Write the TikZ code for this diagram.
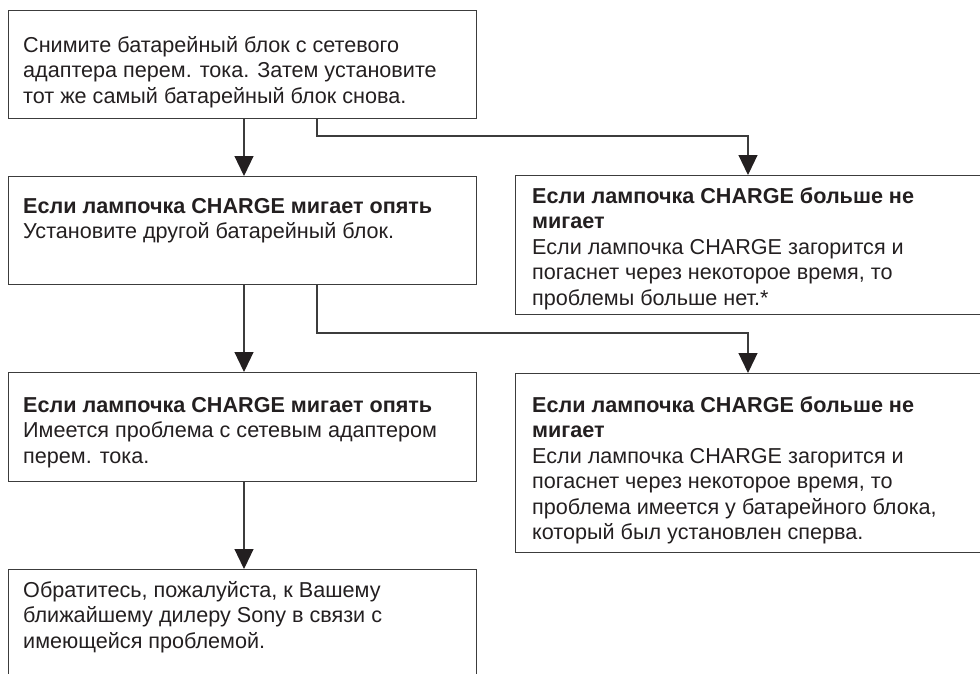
\documentclass[tikz,border=0pt]{standalone}
\usepackage{fontspec}
\setmainfont{Liberation Sans}
\usetikzlibrary{arrows.meta}
\definecolor{ink}{HTML}{231F20}
\definecolor{rule}{HTML}{3C3C3C}
\tikzset{
  boxnode/.style={draw=rule, line width=1.2pt, rectangle, inner sep=0pt, anchor=north west},
  txt/.style={anchor=base west, inner sep=0pt, text=ink, font=\fontsize{21.6}{25.5}\selectfont},
  arr/.style={draw=rule, line width=1.2pt, -{Triangle[width=19pt,length=20pt,color=ink]}},
}
\newcommand{\tb}[1]{\parbox[t]{470pt}{\raggedright #1}}
\begin{document}
\begin{tikzpicture}[x=1pt,y=-1pt]
\useasboundingbox (0,0) rectangle (980,673);
\clip (0,0) rectangle (980,673);
% boxes
\node[boxnode, minimum width=468pt, minimum height=108pt] (b1) at (8,10) {};
\node[boxnode, minimum width=468pt, minimum height=108pt] (b2) at (8,176) {};
\node[boxnode, minimum width=480pt, minimum height=139pt] (b3) at (515,175) {};
\node[boxnode, minimum width=468pt, minimum height=109pt] (b4) at (8,372) {};
\node[boxnode, minimum width=480pt, minimum height=179pt] (b5) at (515,373) {};
\node[boxnode, minimum width=468pt, minimum height=140pt] (b6) at (8,569) {};
% texts
\node[txt] (t1) at (23,52) {\tb{Снимите батарейный блок с сетевого\\адаптера перем. тока. Затем установите\\тот же самый батарейный блок снова.}};
\node[txt] (t2) at (23,213) {\tb{\textbf{Если лампочка CHARGE мигает опять}\\Установите другой батарейный блок.}};
\node[txt] (t3) at (532,203) {\tb{\textbf{Если лампочка CHARGE больше не}\\\textbf{мигает}\\Если лампочка CHARGE загорится и\\погаснет через некоторое время, то\\проблемы больше нет.*}};
\node[txt] (t4) at (23,412) {\tb{\textbf{Если лампочка CHARGE мигает опять}\\Имеется проблема с сетевым адаптером\\перем. тока.}};
\node[txt] (t5) at (532,412) {\tb{\textbf{Если лампочка CHARGE больше не}\\\textbf{мигает}\\Если лампочка CHARGE загорится и\\погаснет через некоторое время, то\\проблема имеется у батарейного блока,\\который был установлен сперва.}};
\node[txt] (t6) at (23,597) {\tb{Обратитесь, пожалуйста, к Вашему\\ближайшему дилеру Sony в связи с\\имеющейся проблемой.}};
% connector columns
\coordinate (cA) at (244,0);
\coordinate (cB) at (317,0);
\coordinate (cC) at (748,0);
\coordinate (j1) at (317,136);
\coordinate (j2) at (317,333);
% connectors
\draw[arr] (b1.south -| cA) -- (b2.north -| cA);
\draw[arr] (b1.south -| cB) -- (j1) -| (b3.north -| cC);
\draw[arr] (b2.south -| cA) -- (b4.north -| cA);
\draw[arr] (b2.south -| cB) -- (j2) -| (b5.north -| cC);
\draw[arr] (b4.south -| cA) -- (b6.north -| cA);
\end{tikzpicture}
\end{document}
